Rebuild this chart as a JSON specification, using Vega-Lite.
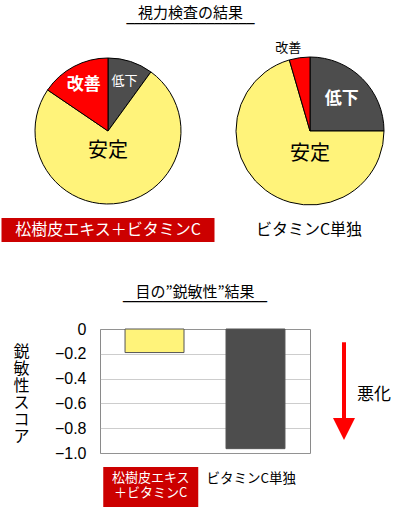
{
  "$schema": "https://vega.github.io/schema/vega-lite/v6.json",
  "padding": {"top": 6, "left": 0, "right": 0, "bottom": 0},
  "background": "white",
  "config": {
    "font": "Noto Sans CJK JP",
    "view": {"stroke": null},
    "title": {
      "font": "Noto Sans CJK JP",
      "fontSize": 15,
      "fontWeight": "normal",
      "color": "black",
      "subtitleFont": "DejaVu Sans",
      "subtitleFontSize": 16,
      "subtitleColor": "black"
    }
  },
  "datasets": {
    "vision": [
      {"group": "松樹皮エキス＋ビタミンC", "cat": "低下", "pct": 10},
      {"group": "松樹皮エキス＋ビタミンC", "cat": "安定", "pct": 74.5},
      {"group": "松樹皮エキス＋ビタミンC", "cat": "改善", "pct": 15.5},
      {"group": "ビタミンC単独", "cat": "低下", "pct": 25},
      {"group": "ビタミンC単独", "cat": "安定", "pct": 70.5},
      {"group": "ビタミンC単独", "cat": "改善", "pct": 4.5}
    ],
    "groups": [
      {"group": "松樹皮エキス＋ビタミンC", "caption": "松樹皮エキス\n＋ビタミンC"},
      {"group": "ビタミンC単独", "caption": "ビタミンC単独"}
    ],
    "score": [
      {"group": "松樹皮エキス＋ビタミンC", "score": -0.19},
      {"group": "ビタミンC単独", "score": -0.965}
    ],
    "arrow": [
      {"kind": "arrow", "start": -0.107, "end": -0.76, "tip": -0.806},
      {"kind": "label", "text": "悪化", "mid": -0.508}
    ]
  },
  "spacing": 42,
  "vconcat": [
    {
      "title": {"text": "視力検査の結果", "subtitle": "________________", "anchor": "middle", "offset": 18.5, "subtitlePadding": -14, "dx": -2.5},
      "spacing": 11,
      "vconcat": [
        {
          "spacing": 18,
          "hconcat": [
            {
              "width": 216,
              "height": 150,
              "data": {"name": "vision"},
              "transform": [{"filter": "datum.group === '松樹皮エキス＋ビタミンC'"}],
              "encoding": {
                "theta": {"field": "pct", "type": "quantitative", "stack": true},
                "order": {"field": "cat", "sort": "ascending"},
                "detail": {"field": "cat"}
              },
              "layer": [
                {
                  "mark": {"type": "arc", "radius": 73, "stroke": "black", "strokeWidth": 1},
                  "encoding": {
                    "color": {
                      "field": "cat",
                      "type": "nominal",
                      "scale": {"domain": ["改善", "低下", "安定"], "range": ["#ff0000", "#4d4d4d", "#fff37a"]},
                      "legend": null
                    }
                  }
                },
                {
                  "mark": {"type": "text", "radius": 52, "fontSize": 17, "fontWeight": "bold", "color": "white"},
                  "encoding": {"text": {"condition": {"test": "datum.cat === '改善'", "field": "cat"}, "value": ""}}
                },
                {
                  "mark": {"type": "text", "radius": 53, "fontSize": 13, "color": "white"},
                  "encoding": {"text": {"condition": {"test": "datum.cat === '低下'", "field": "cat"}, "value": ""}}
                },
                {
                  "mark": {"type": "text", "radius": 0, "dy": 20, "fontSize": 20, "color": "black"},
                  "encoding": {"text": {"condition": {"test": "datum.cat === '安定'", "field": "cat"}, "value": ""}}
                }
              ]
            },
            {
              "width": 150,
              "height": 150,
              "data": {"name": "vision"},
              "transform": [{"filter": "datum.group === 'ビタミンC単独'"}],
              "encoding": {
                "theta": {"field": "pct", "type": "quantitative", "stack": true},
                "order": {"field": "cat", "sort": "ascending"},
                "detail": {"field": "cat"}
              },
              "layer": [
                {
                  "mark": {"type": "arc", "radius": 74, "stroke": "black", "strokeWidth": 1},
                  "encoding": {
                    "color": {
                      "field": "cat",
                      "type": "nominal",
                      "scale": {"domain": ["改善", "低下", "安定"], "range": ["#ff0000", "#4d4d4d", "#fff37a"]},
                      "legend": null
                    }
                  }
                },
                {
                  "mark": {"type": "text", "radius": 84, "dx": -10, "fontSize": 13, "color": "black"},
                  "encoding": {"text": {"condition": {"test": "datum.cat === '改善'", "field": "cat"}, "value": ""}}
                },
                {
                  "mark": {"type": "text", "radius": 45, "fontSize": 17, "fontWeight": "bold", "color": "white"},
                  "encoding": {"text": {"condition": {"test": "datum.cat === '低下'", "field": "cat"}, "value": ""}}
                },
                {
                  "mark": {"type": "text", "radius": 0, "dy": 23, "fontSize": 20, "color": "black"},
                  "encoding": {"text": {"condition": {"test": "datum.cat === '安定'", "field": "cat"}, "value": ""}}
                }
              ]
            }
          ]
        },
        {
          "spacing": 18,
          "hconcat": [
            {
              "width": 216,
              "height": 24,
              "data": {"name": "groups"},
              "transform": [{"filter": "datum.group === '松樹皮エキス＋ビタミンC'"}],
              "encoding": {"x": {"field": "group", "type": "nominal", "axis": null}},
              "layer": [
                {"mark": {"type": "bar", "width": 213, "color": "#cc0000"}},
                {"mark": {"type": "text", "fontSize": 16, "color": "white"}, "encoding": {"text": {"field": "group"}}}
              ]
            },
            {
              "width": 150,
              "height": 24,
              "data": {"name": "groups"},
              "transform": [{"filter": "datum.group === 'ビタミンC単独'"}],
              "mark": {"type": "text", "fontSize": 16, "color": "black"},
              "encoding": {
                "x": {"field": "group", "type": "nominal", "axis": null},
                "text": {"field": "group"}
              }
            }
          ]
        }
      ]
    },
    {
      "title": {"text": "目の”鋭敏性”結果", "subtitle": "__________________", "anchor": "middle", "offset": 19.6, "subtitlePadding": -15, "dx": -6},
      "spacing": 5,
      "vconcat": [
        {
          "spacing": 10,
          "hconcat": [
            {
              "width": 43,
              "height": 124,
              "data": {"values": [{"label": "鋭\n敏\n性\nス\nコ\nア"}]},
              "mark": {"type": "text", "fontSize": 16, "lineBreak": "\n", "lineHeight": 17, "dy": -39, "color": "black"},
              "encoding": {"text": {"field": "label"}}
            },
            {
              "width": 210,
              "height": 124,
              "data": {"name": "score"},
              "view": {"stroke": "#8a8a8a"},
              "mark": {"type": "bar", "stroke": "#555555", "strokeWidth": 1},
              "encoding": {
                "x": {
                  "field": "group",
                  "type": "nominal",
                  "sort": null,
                  "axis": null,
                  "scale": {"paddingInner": 0.416, "paddingOuter": 0.248}
                },
                "y": {
                  "field": "score",
                  "type": "quantitative",
                  "scale": {"domain": [-1, 0], "nice": false},
                  "axis": {
                    "values": [0, -0.2, -0.4, -0.6, -0.8, -1],
                    "labelExpr": "datum.value === 0 ? '0' : format(datum.value, '.1f')",
                    "domain": false,
                    "ticks": false,
                    "labelFont": "Liberation Sans",
                    "labelFontSize": 16,
                    "labelPadding": 14,
                    "labelColor": "black",
                    "grid": true,
                    "gridColor": "#9a9a9a",
                    "gridDash": [1, 1],
                    "title": null
                  }
                },
                "color": {
                  "condition": {"test": "datum.group === '松樹皮エキス＋ビタミンC'", "value": "#fff37a"},
                  "value": "#4d4d4d"
                }
              }
            },
            {
              "width": 76,
              "height": 124,
              "data": {"name": "arrow"},
              "layer": [
                {
                  "transform": [{"filter": "datum.kind === 'arrow'"}],
                  "mark": {"type": "rule", "color": "#ff0000", "strokeWidth": 4},
                  "encoding": {
                    "x": {"field": "kind", "type": "nominal", "axis": null, "scale": {"type": "point", "domain": ["arrow", "label"], "padding": 0.767}},
                    "y": {"field": "start", "type": "quantitative", "axis": null, "scale": {"domain": [-1, 0], "nice": false}},
                    "y2": {"field": "end"}
                  }
                },
                {
                  "transform": [{"filter": "datum.kind === 'arrow'"}],
                  "mark": {"type": "point", "shape": "M-1,-1L1,-1L0,1Z", "size": 484, "filled": true, "color": "#ff0000", "opacity": 1, "strokeWidth": 0},
                  "encoding": {
                    "x": {"field": "kind", "type": "nominal", "axis": null},
                    "y": {"field": "tip", "type": "quantitative", "axis": null}
                  }
                },
                {
                  "transform": [{"filter": "datum.kind === 'label'"}],
                  "mark": {"type": "text", "fontSize": 17, "dy": 3, "color": "black"},
                  "encoding": {
                    "x": {"field": "kind", "type": "nominal", "axis": null},
                    "y": {"field": "mid", "type": "quantitative", "axis": null},
                    "text": {"field": "text"}
                  }
                }
              ]
            }
          ]
        },
        {
          "width": 402,
          "height": 41,
          "data": {"name": "groups"},
          "encoding": {
            "x": {
              "field": "group",
              "type": "nominal",
              "axis": null,
              "scale": {"domain": ["松樹皮エキス＋ビタミンC", "ビタミンC単独"], "paddingInner": 0, "paddingOuter": 1}
            }
          },
          "layer": [
            {
              "transform": [{"filter": "datum.group === '松樹皮エキス＋ビタミンC'"}],
              "mark": {"type": "bar", "width": 95, "color": "#cc0000"}
            },
            {
              "transform": [{"filter": "datum.group === '松樹皮エキス＋ビタミンC'"}],
              "mark": {"type": "text", "fontSize": 13, "lineBreak": "\n", "lineHeight": 15, "dy": -9.5, "color": "white"},
              "encoding": {"text": {"field": "caption"}}
            },
            {
              "transform": [{"filter": "datum.group === 'ビタミンC単独'"}],
              "mark": {"type": "text", "fontSize": 13.5, "dy": -8.5, "color": "black"},
              "encoding": {"text": {"field": "caption"}}
            }
          ]
        }
      ]
    }
  ]
}
